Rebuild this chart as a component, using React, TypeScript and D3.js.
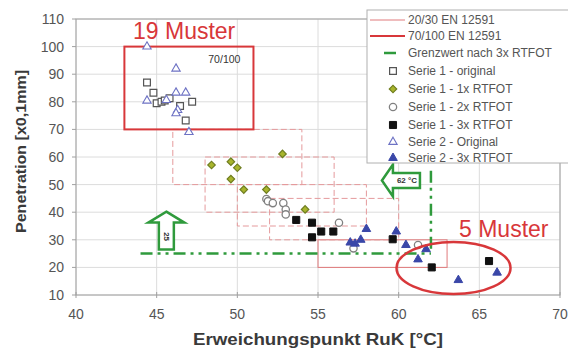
import React from "react";
import * as d3 from "d3";

const W = 568;
const H = 352;

const xTicks = [40, 45, 50, 55, 60, 65, 70];
const yTicks = [10, 20, 30, 40, 50, 60, 70, 80, 90, 100, 110];

// EN 12591 grade boxes: softening point range, penetration range
const gradeLabels = ["20/30", "30/45", "35/50", "40/60", "50/70", "70/100"];
const gradeRuk = [[55, 63], [52, 60], [50, 58], [48, 56], [46, 54], [43, 51]];
const gradePen = [[20, 30], [30, 45], [35, 50], [40, 60], [50, 70], [70, 100]];

// series data [RuK, Penetration]
const s1Original = [
  [44.4, 87], [44.8, 83.3], [45.0, 79.5], [45.3, 80], [45.5, 80.5],
  [45.8, 81.3], [46.45, 78.5], [47.2, 80], [46.8, 73.2],
];
const s1Rtfot1 = [
  [48.4, 57.1], [49.6, 58.3], [50.0, 56.1], [49.6, 52], [52.8, 61.1],
  [50.4, 48.2], [51.8, 48.2], [54.2, 41],
];
const s1Rtfot2 = [
  [51.8, 44.8], [51.9, 44], [52.2, 43.3], [52.85, 43.3], [53.0, 41],
  [53.0, 39.2], [56.3, 36.2], [57.2, 26.9], [61.2, 28.1],
];
const s1Rtfot3 = [
  [53.65, 37.2], [54.63, 36.2], [55.2, 33], [54.63, 30.9], [55.95, 33],
  [59.63, 30.2], [62.05, 20], [65.6, 22.3],
];
const s2Original = [
  [44.4, 100], [46.2, 92], [46.2, 83.3], [46.8, 83.3], [44.4, 80.4],
  [46.3, 77], [46.2, 75.8], [47.0, 69], [45.6, 80.6],
];
const s2Rtfot3 = [
  [57.0, 29], [57.3, 28.6], [57.65, 30], [58.0, 33.9], [59.85, 33],
  [60.45, 28.1], [61.7, 26.6], [61.2, 22.9], [63.7, 15.4], [66.1, 18.1],
];

// limit after 3x RTFOT
const limitPen = 25;
const limitRuk = 62;
const limitLineX = [44, 62];
const limitLineY = [25, 55];

const legendLabels = [
  "20/30 EN 12591",
  "70/100 EN 12591",
  "Grenzwert nach 3x RTFOT",
  "Serie 1 - original",
  "Serie 1 - 1x RTFOT",
  "Serie 1 - 2x RTFOT",
  "Serie 1 - 3x RTFOT",
  "Serie 2 - Original",
  "Serie 2 - 3x RTFOT",
];

const RED = "#d8373a";
const PINK = "#e59a9c";
const GREEN = "#2f9a3c";
const GRID = "#dcdcdc";
const AXIS = "#a0a0a0";
const TXT = "#555";
const FONT = "'Liberation Sans', Arial, sans-serif";

type Style = { type: d3.SymbolType; size: number; fill: string; stroke: string; sw: number; rot?: number };
const styles: Style[] = [
  { type: d3.symbolSquare, size: 46, fill: "#fff", stroke: "#555", sw: 1.2 },
  { type: d3.symbolSquare, size: 28, fill: "#a8b52c", stroke: "#6f7d20", sw: 1.2, rot: 45 },
  { type: d3.symbolCircle, size: 42, fill: "#fff", stroke: "#808080", sw: 1.3 },
  { type: d3.symbolSquare, size: 50, fill: "#111", stroke: "#111", sw: 1 },
  { type: d3.symbolTriangle, size: 30, fill: "#fff", stroke: "#6d72c4", sw: 1.1 },
  { type: d3.symbolTriangle, size: 32, fill: "#3a47a8", stroke: "#3a47a8", sw: 1 },
];
const seriesData = [s1Original, s1Rtfot1, s1Rtfot2, s1Rtfot3, s2Original, s2Rtfot3];

export default function App() {
  const x = d3.scaleLinear().domain([40, 70]).range([76, 560]);
  const y = d3.scaleLinear().domain([10, 110]).range([295, 19]);
  const [x0, x1] = x.range();
  const [y0, y1] = y.range();

  const sym = (s: Style) => d3.symbol().type(s.type).size(s.size)() as string;

  // up arrow anchored at (45.6, 25)
  const ua = { cx: x(45.6), by: y(limitPen) - 4 };
  const upArrow = `M${ua.cx},${ua.by - 38} L${ua.cx + 18},${ua.by - 27} L${ua.cx + 7.5},${ua.by - 27} L${ua.cx + 7.5},${ua.by} L${ua.cx - 7.5},${ua.by} L${ua.cx - 7.5},${ua.by - 27} L${ua.cx - 18},${ua.by - 27} Z`;
  // left arrow anchored near x(62)
  const la = { rx: x(limitRuk) - 11, cy: y(51.5) };
  const leftArrow = `M${la.rx - 38},${la.cy} L${la.rx - 27},${la.cy - 16} L${la.rx - 27},${la.cy - 7.5} L${la.rx},${la.cy - 7.5} L${la.rx},${la.cy + 7.5} L${la.rx - 27},${la.cy + 7.5} L${la.rx - 27},${la.cy + 16} Z`;

  const legX = 367;
  const legY = 10;
  const rowY = [20, 36, 53, 71, 89, 107, 125, 142, 158];

  return (
    <svg width={W} height={H} style={{ position: "absolute", left: 0, top: 0, background: "#fff" }} fontFamily={FONT}>
      <rect x={0} y={0} width={W} height={H} fill="#fff" />
      {/* grid */}
      {yTicks.map((t) => (
        <line key={"gy" + t} x1={x0} x2={x1} y1={y(t)} y2={y(t)} stroke={GRID} strokeWidth={1} />
      ))}
      {xTicks.map((t) => (
        <line key={"gx" + t} x1={x(t)} x2={x(t)} y1={y0} y2={y1} stroke={GRID} strokeWidth={1} />
      ))}
      <rect x={x0} y={y1} width={x1 - x0} height={y0 - y1} fill="none" stroke={AXIS} strokeWidth={1} />

      {/* grade boxes */}
      {gradeLabels.map((g, i) => {
        const [a, b] = gradeRuk[i];
        const [p, q] = gradePen[i];
        const isMain = g === "70/100";
        const isSolid = g === "20/30";
        return (
          <rect
            key={g}
            x={x(a)}
            y={y(q)}
            width={x(b) - x(a)}
            height={y(p) - y(q)}
            fill="none"
            stroke={isMain ? RED : isSolid ? "#e07a7c" : PINK}
            strokeWidth={isMain ? 2 : 1}
            strokeDasharray={isMain || isSolid ? undefined : "6 3"}
          />
        );
      })}
      <text x={x(48.2)} y={y(94.2)} fontSize={10.5} fill="#333">70/100</text>

      {/* limit lines */}
      <line x1={x(limitLineX[0])} x2={x(limitLineX[1])} y1={y(limitPen)} y2={y(limitPen)} stroke={GREEN} strokeWidth={2.5} strokeDasharray="12 5 3 5 3 5" />
      <line x1={x(limitRuk)} x2={x(limitRuk)} y1={y(limitLineY[1])} y2={y(limitLineY[0])} stroke={GREEN} strokeWidth={2.5} strokeDasharray="12 5 3 5 3 5" />
      <path d={upArrow} fill="#fff" stroke={GREEN} strokeWidth={2.5} strokeLinejoin="miter" />
      <text x={ua.cx} y={ua.by - 13} fontSize={8} fontWeight="bold" fill="#333" textAnchor="middle" dominantBaseline="middle" transform={`rotate(90 ${ua.cx} ${ua.by - 13})`}>25</text>
      <path d={leftArrow} fill="#fff" stroke={GREEN} strokeWidth={2.5} />
      <text x={la.rx - 13} y={la.cy + 0.5} fontSize={8} fontWeight="bold" fill="#333" textAnchor="middle" dominantBaseline="middle">62 °C</text>

      {/* points */}
      {seriesData.map((ds, si) =>
        ds.map((d, j) => (
          <path
            key={si + "-" + j}
            d={sym(styles[si])}
            transform={`translate(${x(d[0])},${y(d[1])}) rotate(${styles[si].rot || 0})`}
            fill={styles[si].fill}
            stroke={styles[si].stroke}
            strokeWidth={styles[si].sw}
          />
        ))
      )}

      {/* annotations */}
      <ellipse cx={x(63.4)} cy={y(19.8)} rx={57} ry={26} fill="none" stroke={RED} strokeWidth={2.5} />
      <text x={133} y={39} fontSize={23} fill={RED}>19 Muster</text>
      <text x={459} y={237} fontSize={23} fill={RED}>5 Muster</text>

      {/* axes ticks and labels */}
      {yTicks.map((t) => (
        <g key={"yt" + t}>
          <line x1={x0 - 4} x2={x0} y1={y(t)} y2={y(t)} stroke={AXIS} />
          <text x={x0 - 12} y={y(t)} dy="0.35em" textAnchor="end" fontSize={14} fill={TXT}>{t}</text>
        </g>
      ))}
      {xTicks.map((t) => (
        <g key={"xt" + t}>
          <line x1={x(t)} x2={x(t)} y1={y0 - 3} y2={y0 + 3} stroke={AXIS} />
          <text x={x(t)} y={y0 + 24} textAnchor="middle" fontSize={14} fill={TXT}>{t}</text>
        </g>
      ))}
      <text x={193} y={345} fontSize={16.5} fontWeight="bold" fill="#3a3a3a" textLength={250} lengthAdjust="spacingAndGlyphs">Erweichungspunkt RuK [°C]</text>
      <text transform="translate(26,151.5) rotate(-90)" textAnchor="middle" fontSize={15.5} fontWeight="bold" fill="#3a3a3a" textLength={163} lengthAdjust="spacingAndGlyphs">Penetration [x0,1mm]</text>

      {/* legend */}
      <rect x={legX} y={legY} width={W - legX + 10} height={163 - legY} fill="#fff" stroke="#b0b0b0" strokeWidth={1} />
      {legendLabels.map((l, i) => {
        const cy = rowY[i];
        let mark: React.ReactNode = null;
        if (i === 0) mark = <line x1={370} x2={405} y1={cy} y2={cy} stroke="#e07a7c" strokeWidth={1} />;
        else if (i === 1) mark = <line x1={370} x2={405} y1={cy} y2={cy} stroke={RED} strokeWidth={2} />;
        else if (i === 2) mark = <line x1={384} x2={396} y1={cy} y2={cy} stroke={GREEN} strokeWidth={2.5} />;
        else {
          const s = styles[i - 3];
          mark = <path d={sym(s)} transform={`translate(393,${cy}) rotate(${s.rot || 0})`} fill={s.fill} stroke={s.stroke} strokeWidth={s.sw} />;
        }
        return (
          <g key={l}>
            {mark}
            <text x={408} y={cy} dy="0.35em" fontSize={12} fill={TXT}>{l}</text>
          </g>
        );
      })}
    </svg>
  );
}
